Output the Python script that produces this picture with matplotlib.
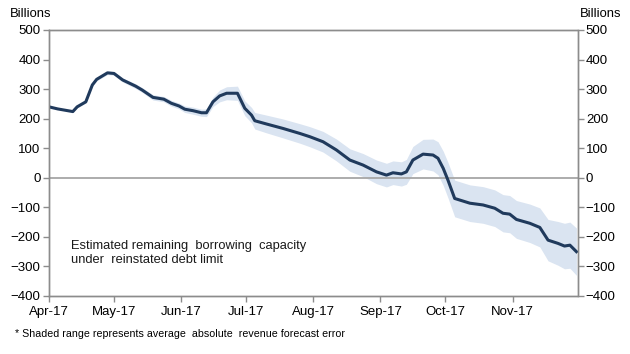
import numpy as np
import pandas as pd
import matplotlib
matplotlib.use("Agg")
import matplotlib.pyplot as plt
import matplotlib.dates as mdates

plt.rcParams['font.family'] = ['Liberation Sans', 'DejaVu Sans']

# days after 1 Apr 2017, remaining capacity ($bn), half width of shaded error band
days = [0, 4, 11, 13, 17, 20, 22, 27, 30, 34, 40, 43, 48, 53, 56.5, 60, 62.7, 66.5,
        70.4, 72.7, 75.7, 78.8, 82, 87, 90.4, 93.5, 95, 100.4, 108, 115.8, 120.4,
        126.5, 132.7, 138.9, 145, 151.2, 155.8, 158.8, 162.7, 165, 168, 172.7,
        177.3, 179.6, 182, 184.2, 187.3, 194.3, 200.4, 205.8, 209.6, 212.7, 215.8,
        222, 226.6, 230.4, 235, 238, 240.5, 243.5]
capacity = [240, 233, 224, 240, 257, 314, 333, 355, 353, 331, 310, 297, 272, 266, 252,
            243, 232, 227, 220, 220, 257, 277, 286, 286, 235, 212, 193, 182, 167, 150,
            139, 122, 94, 60, 43, 20, 9, 17, 13, 20, 60, 80, 77, 66, 32, -8, -70, -86,
            -92, -103, -120, -123, -141, -154, -168, -211, -222, -231, -228, -250]
band = [0, 1, 2, 3, 4, 5, 5, 6, 6, 7, 8, 8, 9, 9, 10, 10, 11, 12, 12, 13, 16, 20, 22,
        24, 25, 26, 28, 30, 32, 33, 34, 35, 37, 38, 39, 40, 40, 40, 41, 42, 46, 50,
        54, 56, 58, 60, 62, 62, 62, 62, 63, 63, 64, 65, 66, 70, 74, 77, 78, 80]

dates = pd.Timestamp('2017-04-01') + pd.to_timedelta(days, unit='D')
capacity = np.array(capacity)
band = np.array(band)

fig = plt.figure(figsize=(6.3, 3.54), dpi=100)
ax = fig.add_axes([49 / 630, 1 - 296 / 354, 528.5 / 630, 266 / 354])

ax.fill_between(dates, capacity - band, capacity + band, color='#dae4f1', lw=0)
ax.axhline(0, color='#a6a6a6', lw=1.3, zorder=1)
ax.plot(dates, capacity, color='#203a5c', lw=2.2, zorder=3)

ax.set_xlim(pd.Timestamp('2017-04-01'), pd.Timestamp('2017-12-01'))
ax.set_ylim(-400, 500)
ax.set_yticks(range(-400, 501, 100))
ax.xaxis.set_major_locator(mdates.MonthLocator(bymonth=range(4, 12)))
ax.xaxis.set_major_formatter(mdates.DateFormatter('%b-%y'))

ax2 = ax.twinx()
ax2.set_ylim(-400, 500)
ax2.set_yticks(range(-400, 501, 100))

for a in (ax, ax2):
    for s in a.spines.values():
        s.set_color('#8c8c8c')
        s.set_linewidth(1.0)
    a.tick_params(length=4, width=1.0, color='#8c8c8c', labelsize=9.5,
                  labelcolor='black', pad=2)
ax.tick_params(axis='x', pad=3)

fig.text(10 / 630, 1 - 14 / 354, 'Billions', fontsize=9.4, va='center', ha='left')
fig.text(621 / 630, 1 - 14 / 354, 'Billions', fontsize=9.4, va='center', ha='right')

ax.text(pd.Timestamp('2017-04-11'), -255, 'Estimated remaining  borrowing  capacity\nunder  reinstated debt limit',
        fontsize=9.3, va='center', ha='left', linespacing=1.2, color='#1a1a1a')

fig.text(15 / 630, 1 - 334 / 354,
         '* Shaded range represents average  absolute  revenue forecast error',
         fontsize=7.7, va='center', ha='left')

fig.savefig('out.png', dpi=100)
